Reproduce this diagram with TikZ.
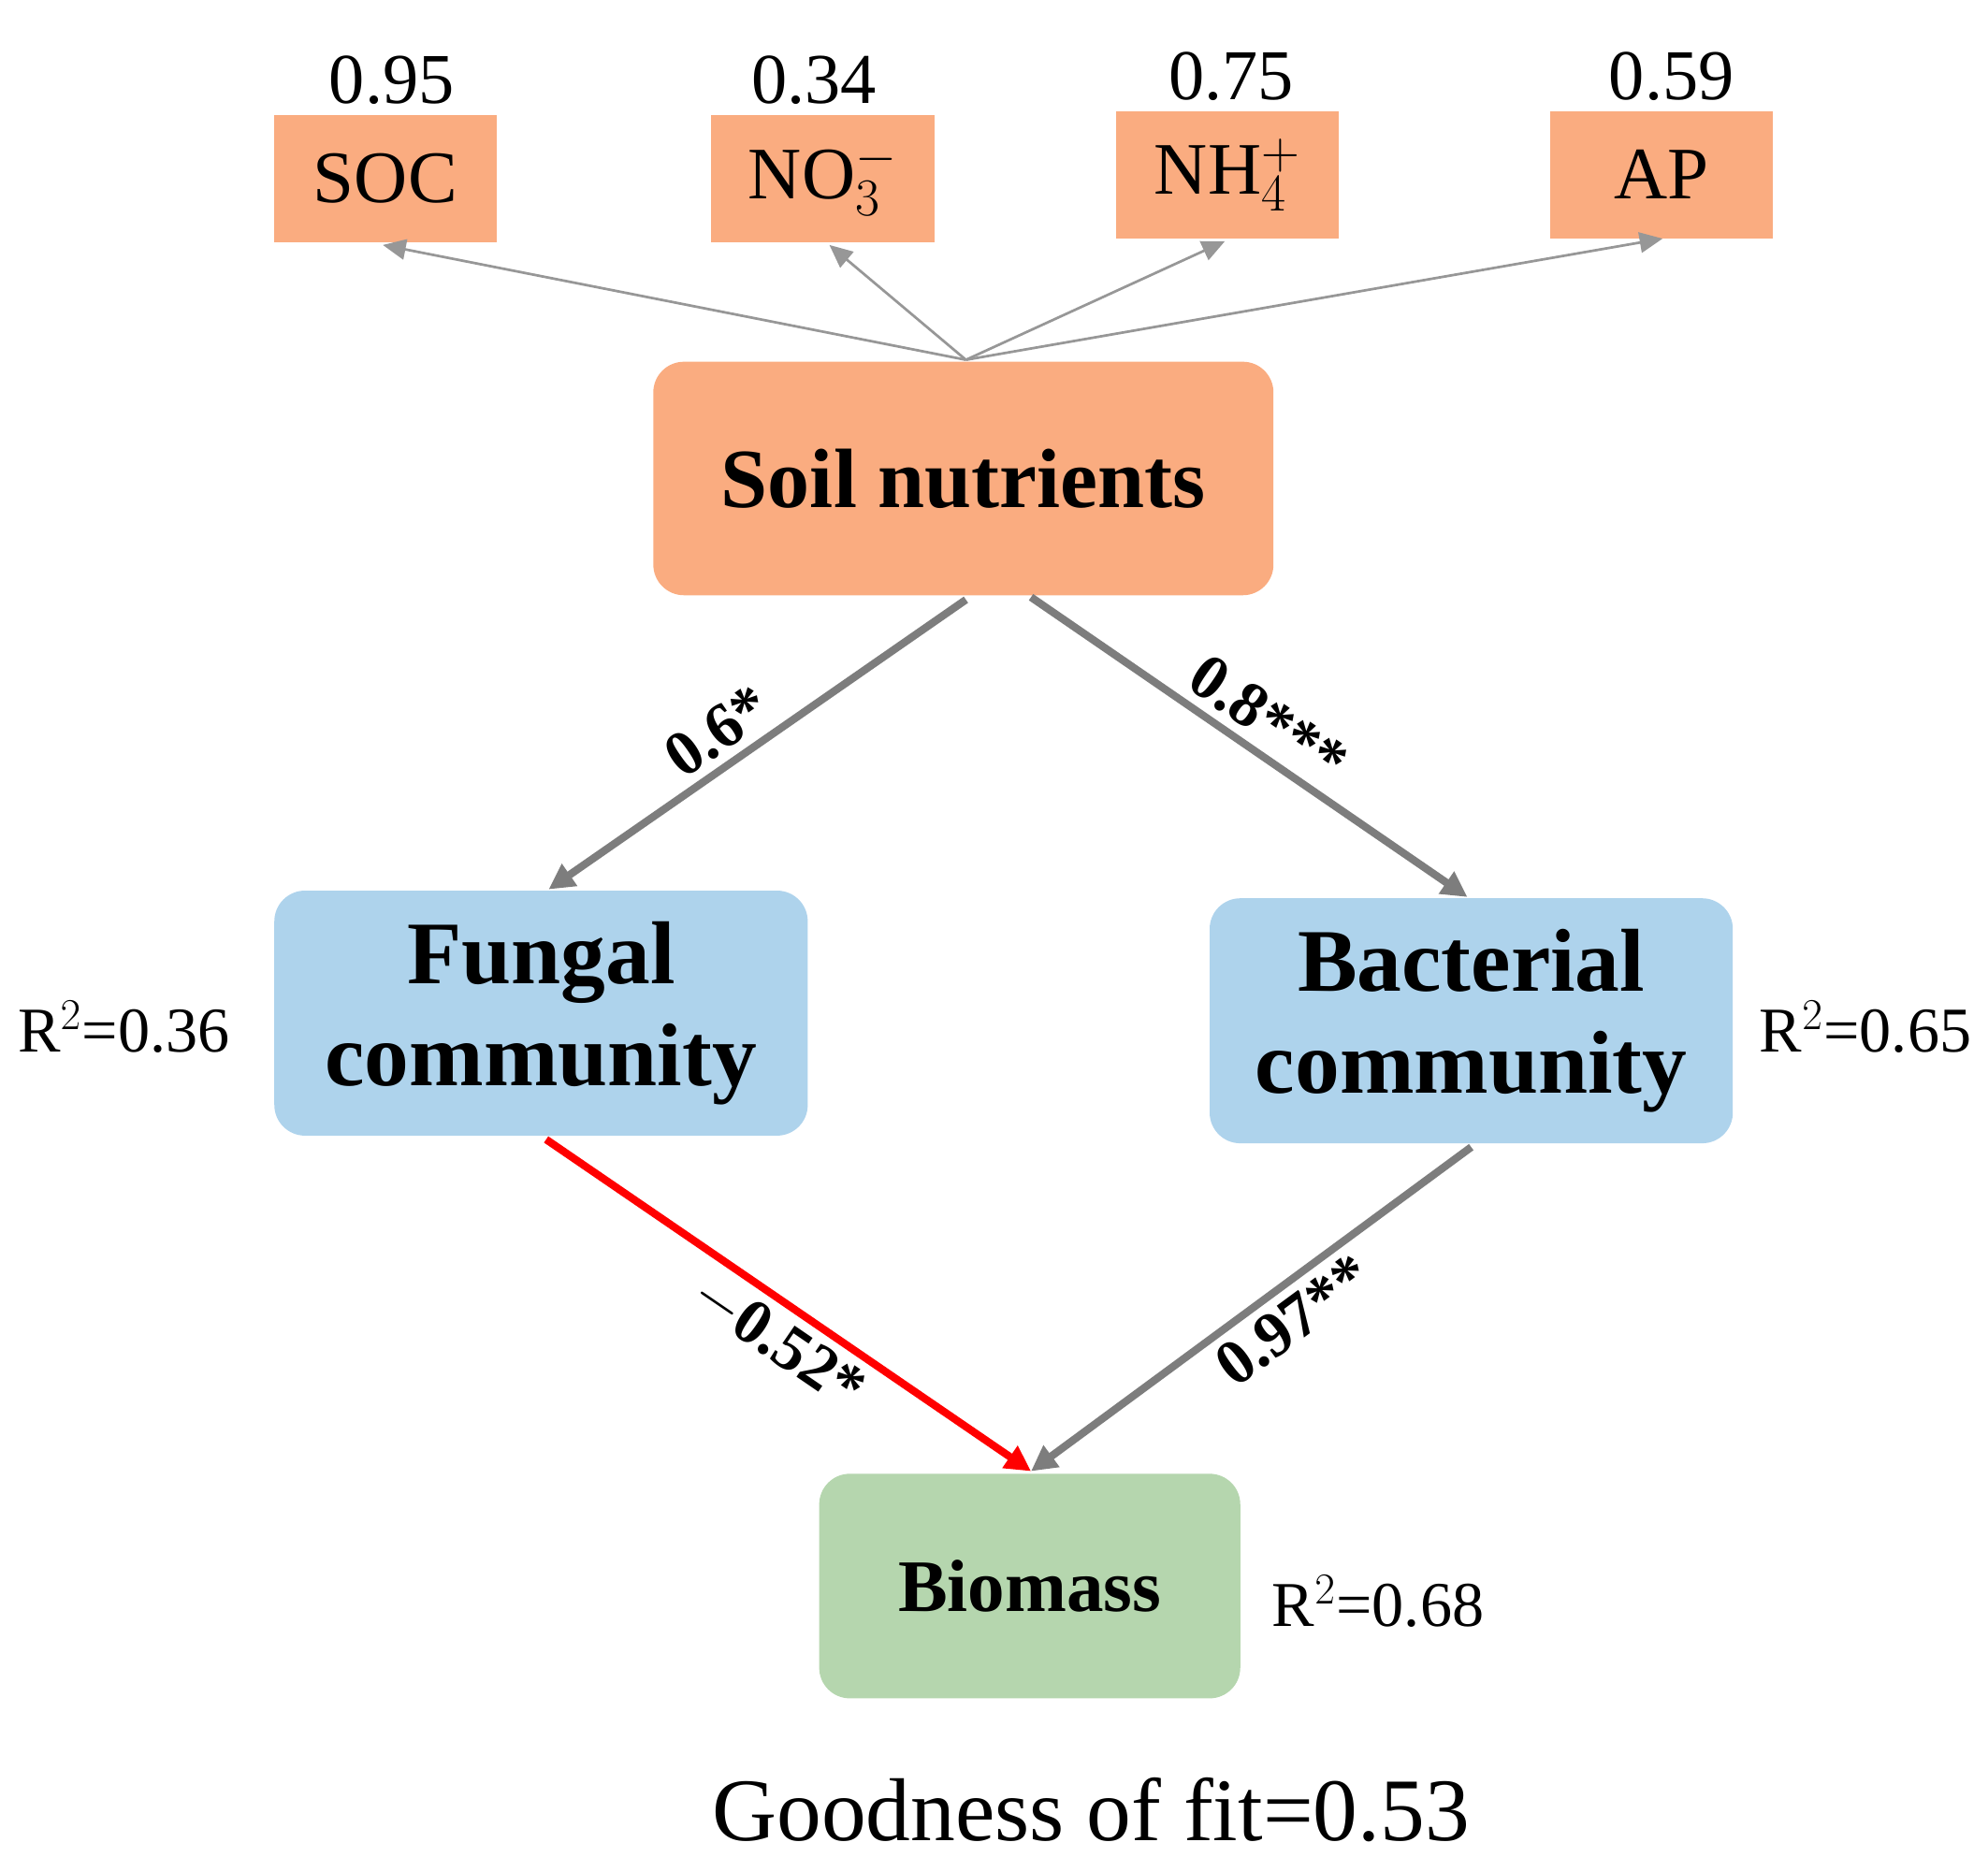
\documentclass[tikz,border=0pt]{standalone}
\usepackage{fontspec}
\setmainfont{Liberation Serif}
\usetikzlibrary{arrows.meta}
\definecolor{salmon}{RGB}{250,172,128}
\definecolor{lblue}{RGB}{174,211,236}
\definecolor{lgreen}{RGB}{181,214,174}
\definecolor{agray}{RGB}{125,125,125}
\begin{document}
\begin{tikzpicture}[x=0.5pt,y=-0.5pt,
 ind/.style={fill=salmon,draw=none,minimum width=87.5pt,minimum height=50pt,inner sep=0pt,font=\fontsize{29}{32}\selectfont},
 big/.style={rounded corners=12pt,draw=none,inner sep=0pt,align=center},
 val/.style={font=\fontsize{28}{30}\selectfont},
 thin/.style={draw=agray!80,line width=1pt,-{Triangle[length=9pt,width=8pt]}},
 thick/.style={draw=agray,line width=3pt,-{Triangle[length=10pt,width=10pt]}},
 elab/.style={font=\bfseries\fontsize{25}{26}\selectfont,sloped},
 rr/.style={font=\fontsize{25}{26}\selectfont}]
\useasboundingbox (0,0) rectangle (1558,1455);
\node[ind] (soc) at (302,140) {SOC};
\node[ind] (no3) at (645,140) {NO$_3^-$};
\node[ind] (nh4) at (962,137) {NH$_4^+$};
\node[ind] (ap) at (1302,137) {AP};
\node[val] (v1) at (307,63) {0.95};
\node[val] (v2) at (638,63) {0.34};
\node[val] (v3) at (965,60) {0.75};
\node[val] (v4) at (1310,60) {0.59};
\node[big,fill=salmon,minimum width=243pt,minimum height=91.5pt,font=\bfseries\fontsize{33}{36}\selectfont] (soil) at (755,375) {Soil nutrients};
\node[big,fill=lblue,minimum width=209pt,minimum height=96pt,font=\bfseries\fontsize{35}{40}\selectfont] (fun) at (424,794) {Fungal\\community};
\node[big,fill=lblue,minimum width=205pt,minimum height=96pt,font=\bfseries\fontsize{35}{40}\selectfont] (bac) at (1153,800) {Bacterial\\community};
\node[big,fill=lgreen,minimum width=165pt,minimum height=88pt,font=\bfseries\fontsize{29}{30}\selectfont] (bio) at (807,1243) {Biomass};
\node[rr] (r1) at (97,805) {R$^2$=0.36};
\node[rr] (r2) at (1462,805) {R$^2$=0.65};
\node[rr] (r3) at (1080,1255) {R$^2$=0.68};
\node[font=\fontsize{35}{38}\selectfont] (gof) at (855,1418) {Goodness of fit=0.53};
\coordinate (s0) at (757,282);
\coordinate (s1) at (757,470);
\coordinate (s2) at (808,468);
\draw[thin] (s0) -- (300,192);
\draw[thin] (s0) -- (650,192);
\draw[thin] (s0) -- (960,189);
\draw[thin] (s0) -- (1303,187);
\draw[thick] (s1) -- node[elab,above,pos=0.55] {0.6*} (430,697);
\draw[thick] (s2) -- node[elab,above,pos=0.5] {0.8***} (1150,703);
\draw[line width=3pt,draw=red,-{Triangle[length=10pt,width=10pt]}] (428,893) -- node[elab,below,pos=0.52] {$-$0.52*} (808,1153);
\draw[thick] (1153,899) -- node[elab,below,pos=0.45] {0.97**} (808,1153);
\end{tikzpicture}
\end{document}
